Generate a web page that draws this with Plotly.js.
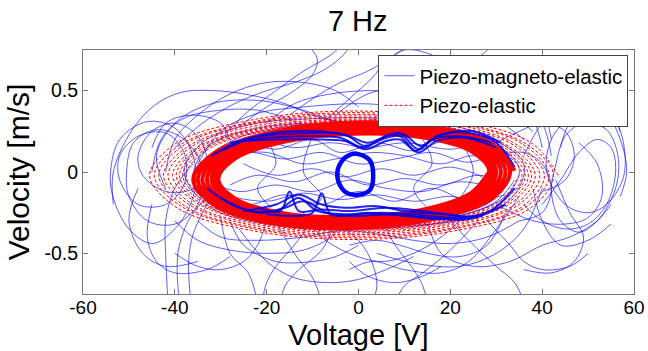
<!DOCTYPE html>
<html><head><meta charset="utf-8">
<script src="https://cdn.plot.ly/plotly-3.0.1.min.js"></script>
<style>html,body{margin:0;padding:0;background:#fff}#chart{width:648px;height:351px}</style>
</head><body><div id="chart"></div>
<script>
// ---- data (Voltage [V], Velocity [m/s]) ----
const xTicks = [-60, -40, -20, 0, 20, 40, 60];
const yTicks = [-0.5, 0, 0.5];
const yTickText = ['-0.5', '0', '0.5'];

// Piezo-elastic: outer (transient) loops
const redOuter = [
[43.5,-0.02],[37.54,0.18],[21.25,0.32],[-1,0.375],[-23.25,0.32],[-39.54,0.18],[-45.5,-0.02],[-39.54,-0.22],[-23.25,-0.36],[-1,-0.415],[21.25,-0.36],[37.54,-0.22],
[42.5,-0.02],[36.67,0.17],[20.75,0.31],[-1,0.365],[-22.75,0.31],[-38.67,0.17],[-44.5,-0.02],[-38.67,-0.21],[-22.75,-0.35],[-1,-0.405],[20.75,-0.35],[36.67,-0.21],
[41.5,-0.02],[35.81,0.17],[20.25,0.305],[-1,0.355],[-22.25,0.305],[-37.81,0.17],[-43.5,-0.02],[-37.81,-0.21],[-22.25,-0.345],[-1,-0.395],[20.25,-0.345],[35.81,-0.21],
[40.5,-0.02],[34.94,0.16],[19.75,0.30],[-1,0.345],[-21.75,0.30],[-36.94,0.16],[-42.5,-0.02],[-36.94,-0.20],[-21.75,-0.336],[-1,-0.385],[19.75,-0.336],[34.94,-0.20],
[39.5,-0.02],[34.07,0.16],[19.25,0.29],[-1,0.335],[-21.25,0.29],[-36.07,0.16],[-41.5,-0.02],[-36.07,-0.20],[-21.25,-0.327],[-1,-0.375],[19.25,-0.327],[34.07,-0.20],
[38.5,-0.02],[33.21,0.15],[18.75,0.28],[-1,0.325],[-20.75,0.28],[-35.21,0.15],[-40.5,-0.02],[-35.21,-0.19],[-20.75,-0.32],[-1,-0.365],[18.75,-0.32],[33.21,-0.19],
[37.7,-0.02],[32.51,0.15],[18.35,0.273],[-1,0.318],[-20.35,0.273],[-34.51,0.15],[-39.7,-0.02],[-34.51,-0.19],[-20.35,-0.313],[-1,-0.358],[18.35,-0.313],[32.51,-0.19],
[37,-0.02],[31.91,0.146],[18,0.268],[-1,0.312],[-20,0.268],[-33.91,0.146],[-39,-0.02],[-33.91,-0.186],[-20,-0.308],[-1,-0.352],[18,-0.308],[31.91,-0.186],
[36.3,-0.02],[31.3,0.143],[17.65,0.262],[-1,0.306],[-19.65,0.262],[-33.3,0.143],[-38.3,-0.02],[-33.3,-0.183],[-19.65,-0.302],[-1,-0.346],[17.65,-0.302],[31.3,-0.183],
[35.6,-0.02],[30.7,0.14],[17.3,0.257],[-1,0.30],[-19.3,0.257],[-32.7,0.14],[-37.6,-0.02],[-32.7,-0.18],[-19.3,-0.297],[-1,-0.34],[17.3,-0.297],[30.7,-0.18],[35,-0.02]
];
// Piezo-elastic: steady-state loops (dense band)
const redInner = [
[34,0.008],[29.31,0.167],[16.5,0.276],[-1,0.305],[-18.5,0.248],[-31.31,0.119],[-36,-0.048],[-31.31,-0.207],[-18.5,-0.316],[-1,-0.345],[16.5,-0.288],[29.31,-0.159],
[33,0.007],[28.44,0.16],[16,0.265],[-1,0.293],[-18,0.237],[-30.44,0.113],[-35,-0.047],[-30.44,-0.201],[-18,-0.305],[-1,-0.333],[16,-0.277],[28.44,-0.153],
[32,0.006],[27.58,0.153],[15.5,0.253],[-1,0.28],[-17.5,0.227],[-29.58,0.107],[-34,-0.046],[-29.58,-0.193],[-17.5,-0.293],[-1,-0.32],[15.5,-0.267],[27.58,-0.147],
[31,0.006],[26.71,0.146],[15,0.242],[-1,0.268],[-17,0.216],[-28.71,0.102],[-33,-0.046],[-28.71,-0.186],[-17,-0.282],[-1,-0.308],[15,-0.256],[26.71,-0.142],
[30,0.005],[25.85,0.139],[14.5,0.231],[-1,0.256],[-16.5,0.207],[-27.85,0.097],[-32,-0.045],[-27.85,-0.179],[-16.5,-0.271],[-1,-0.296],[14.5,-0.247],[25.85,-0.137],
[29.2,0.004],[25.15,0.134],[14.1,0.222],[-1,0.245],[-16.1,0.198],[-27.15,0.092],[-31.2,-0.044],[-27.15,-0.174],[-16.1,-0.262],[-1,-0.285],[14.1,-0.238],[25.15,-0.132],
[28.5,0.004],[24.55,0.128],[13.75,0.213],[-1,0.235],[-15.75,0.189],[-26.55,0.088],[-30.5,-0.044],[-26.55,-0.168],[-15.75,-0.257],[-1,-0.275],[13.75,-0.233],[24.55,-0.128],[28.5,0.004]
];

// Piezo-magneto-elastic: chaotic trajectories (null = break)
const blueLeft = [
[-54,0],[-52,0.2],[-46,0.31],[-40,0.27],[-36,0.1],[-36,-0.15],[-40,-0.35],[-45,-0.44],[-50,-0.35],[-53.5,-0.15],[-54,0],null,
[-50.5,0],[-49,0.18],[-44,0.26],[-38,0.2],[-34,0.02],[-35,-0.2],[-40,-0.32],[-46,-0.3],[-50,-0.15],[-50.5,0],null,
[-48,0.1],[-45,0.25],[-40,0.3],[-35,0.22],[-33,0.05],[-36,-0.1],[-42,-0.12],[-47,-0.02],[-48,0.1],null,
[-52,0.1],[-48,0.22],[-42,0.24],[-38,0.12],[-38,-0.08],[-42,-0.2],[-48,-0.2],[-52,-0.05],[-52,0.1],null,
[-36,0.05],[-40,-0.1],[-42,-0.3],[-42,-0.5],[-41.5,-0.8],null,
[-30,-0.1],[-36,-0.25],[-39,-0.45],[-39.5,-0.6],[-39,-0.8],null,
[-33,-0.2],[-36,-0.38],[-37,-0.55],[-36.5,-0.8],null,
[-45,-0.2],[-46,-0.4],[-44,-0.55],[-40,-0.62],[-33,-0.6],[-28,-0.52],null,
[-48,-0.1],[-50,-0.3],[-47,-0.5],[-42,-0.58],[-35,-0.55],null,
[-45,0.15],[-42,0.3],[-36,0.35],[-30,0.3],[-28,0.2],null,
[-33,-0.05],[-30,0.12],[-22,0.22],[-10,0.26],[0,0.26],null,
[-36,-0.1],[-33,0.08],[-27,0.2],[-18,0.27],[-6,0.3]
];
const blueTop = [
[-53.4,-0.2],[-53.4,0],[-49.5,0.25],[-44.4,0.41],[-38.6,0.49],[-31.4,0.5],[-24,0.475],[-16,0.42],[-8,0.33],[0,0.3],null,
[-45,0],[-43,0.2],[-38,0.33],[-30,0.38],[-22,0.38],[-15,0.32],[-10,0.25],null,
[-40,0.15],[-34,0.3],[-27,0.42],[-20,0.5],[-14,0.55],[-8,0.62],[-4,0.7],[-1,0.8],null,
[-30,0.2],[-25,0.35],[-18,0.5],[-12,0.62],[-6,0.72],[-3,0.8],null,
[-15,0.35],[-10,0.45],[-4,0.55],[2,0.62],[8,0.72],[12,0.8],null,
[-5,0.35],[2,0.48],[10,0.52],[18,0.55],[25,0.5],[32,0.38],[38,0.25],null,
[5,0.4],[12,0.58],[20,0.65],[28,0.6],[34,0.48],[40,0.3],[42,0.1],null,
[-42,-0.1],[-44,0.1],[-40,0.3],[-32,0.42],[-22,0.44],[-12,0.38],[-4,0.3],[4,0.28],null,
[20,0.3],[24,0.45],[30,0.55],[36,0.52],[40,0.4],[42,0.2],null,
[10,0.3],[14,0.45],[20,0.58],[26,0.7],[30,0.8],null,
[0,0.4],[-5,0.5],[-12,0.55],[-20,0.55],[-28,0.48],[-35,0.35],[-40,0.2],[-42,0],null,
[-35,0.05],[-30,0.25],[-22,0.36],[-12,0.4],[0,0.42],[10,0.4],[20,0.36],[28,0.3],null,
[-20,0.3],[-14,0.42],[-6,0.48],[4,0.5],[14,0.46],[22,0.4],[30,0.32],[36,0.2],null,
[-26,0.28],[-20,0.4],[-14,0.5],[-10,0.6],[-9,0.7],[-12,0.8],null,
[-8,0.3],[-2,0.45],[3,0.58],[6,0.68],[10,0.75],[16,0.72],[22,0.62],[30,0.5],null,
[2,0.3],[8,0.42],[15,0.5],[24,0.52],[33,0.45],[38,0.32],[40,0.15]
];
const blueRight = [
[41,0],[42,0.2],[46,0.33],[51,0.36],[56,0.3],[58,0.12],[57.5,-0.05],[54,-0.2],[50,-0.25],[45,-0.2],[41,0],null,
[43,0.05],[45,0.22],[49,0.3],[54,0.26],[56.5,0.1],[56,-0.1],[52,-0.3],[48,-0.37],[44,-0.3],[42,-0.12],[43,0.05],null,
[38,-0.1],[40,-0.3],[44,-0.45],[50,-0.42],[55,-0.32],null,
[44,0.15],[46,0.3],[50,0.37],[54,0.35],[57,0.2],[58.4,0],[57,-0.15],null,
[28,0.15],[35,0.25],[40,0.3],[45,0.25],[47,0.1],[45,-0.05],[40,-0.12],null,
[43,-0.05],[46,-0.25],[49,-0.4],[47,-0.55],[42,-0.62],[36,-0.6],null,
[30,-0.2],[38,-0.3],[45,-0.32],[50,-0.28],[53,-0.15],[52,0.05],[48,0.18],null,
[36,0.1],[40,0.3],[45,0.42],[50,0.44],[55,0.38],[57,0.25],null,
[40,-0.2],[44,-0.05],[48,0.12],[52,0.2],[55,0.15],[56,0],[54,-0.2],[50,-0.32],[45,-0.35],[40,-0.3],[36,-0.2],null,
[30,0.1],[36,0.12],[40,0.05],[42,-0.1],[40,-0.25],[35,-0.3],null,
[0,-0.3],[12,-0.3],[22,-0.27],[30,-0.18],[34,-0.05],null,
[5,-0.33],[16,-0.32],[25,-0.28],[32,-0.2]
];
const blueBottom = [
[35,-0.15],[30,-0.35],[24,-0.55],[18,-0.62],[10,-0.6],[3,-0.55],[-2,-0.6],null,
[40,-0.1],[36,-0.35],[30,-0.5],[22,-0.58],[12,-0.56],[4,-0.5],null,
[26,-0.3],[20,-0.48],[14,-0.62],[10,-0.7],[8,-0.8],null,
[32,-0.25],[28,-0.45],[22,-0.52],[15,-0.5],[9,-0.45],[4,-0.42],[-2,-0.45],null,
[15,-0.3],[18,-0.5],[25,-0.58],[33,-0.55],[40,-0.45],[46,-0.4],[52,-0.3],[55,-0.2],null,
[-20,-0.3],[-22,-0.45],[-25,-0.55],[-30,-0.6],[-35,-0.58],[-40,-0.5],null,
[-10,-0.3],[-14,-0.45],[-18,-0.58],[-20,-0.68],[-21,-0.8],null,
[-5,-0.3],[-8,-0.48],[-13,-0.6],[-16,-0.7],[-17,-0.8],null,
[-28,-0.3],[-25,-0.45],[-18,-0.55],[-10,-0.55],[-5,-0.52],[0,-0.45],null,
[-2,-0.55],[2,-0.64],[8,-0.68],[14,-0.64],[18,-0.58],null,
[-30,-0.28],[-28,-0.5],[-24,-0.62],[-22,-0.8],null,
[-40,-0.3],[-35,-0.42],[-28,-0.48],[-20,-0.5],[-12,-0.48],[-6,-0.4],[-3,-0.3],null,
[-12,-0.25],[-8,-0.4],[-2,-0.5],[5,-0.55],[12,-0.5],[18,-0.4],[22,-0.3],null,
[5,-0.3],[8,-0.45],[12,-0.6],[14,-0.7],[15,-0.8],null,
[-18,-0.3],[-14,-0.5],[-10,-0.65],[-8,-0.8],null,
[-35,-0.3],[-30,-0.4],[-22,-0.42],[-12,-0.4],[-4,-0.36],[4,-0.38],[12,-0.42],[20,-0.44],[28,-0.4],[35,-0.3],null,
[-26,-0.35],[-20,-0.55],[-14,-0.65],[-6,-0.68],[0,-0.66],[6,-0.6],[12,-0.52],null,
[20,-0.3],[24,-0.42],[30,-0.58],[34,-0.68],[36,-0.8],null,
[28,-0.3],[33,-0.45],[36,-0.55],[40,-0.6],[46,-0.58],[50,-0.5],null,
[-6,-0.3],[0,-0.42],[3,-0.56],[4,-0.7],[3,-0.8]
];
const blueInner = [
[-34,0],[-28,0.1],[-20,0.12],[-12,0.05],[-5,0.08],[3,0.12],[10,0.1],[18,0.05],[25,0.1],[32,0.02],null,
[-33,-0.05],[-26,-0.12],[-18,-0.08],[-10,-0.12],[-2,-0.05],[6,-0.1],[14,-0.12],[22,-0.06],[30,-0.1],null,
[-30,0.15],[-22,0.2],[-14,0.15],[-6,0.18],[2,0.15],[10,0.18],[20,0.14],[28,0.18],[33,0.1],null,
[-28,-0.15],[-20,-0.18],[-12,-0.13],[-4,-0.17],[4,-0.14],[12,-0.18],[20,-0.15],[28,-0.2],null,
[-25,0.05],[-18,-0.02],[-10,0.02],[-3,-0.03],[5,0.02],[12,-0.02],[20,0.03],[27,-0.03],null,
[-30,0.05],[-24,0.12],[-16,0.08],[-8,0.12],[0,0.05],[8,0.08],[16,0.12],[24,0.06],[30,0.12],null,
[-28,-0.08],[-22,-0.02],[-14,-0.06],[-6,0],[2,-0.08],[10,-0.04],[18,-0.08],[26,-0.02],[32,-0.06],null,
[-32,0.08],[-26,0.18],[-18,0.14],[-10,0.2],[-4,0.12],[4,0.18],[12,0.13],[20,0.2],[28,0.12],null,
[-32,-0.12],[-24,-0.2],[-16,-0.14],[-8,-0.2],[0,-0.12],[8,-0.18],[16,-0.1],[24,-0.18],[32,-0.14],null,
[-20,0.2],[-18,0.05],[-22,-0.1],[-19,-0.22],null,
[14,0.2],[16,0.05],[12,-0.1],[15,-0.22],null,
[22,0.2],[25,0],[21,-0.2],null,
[-10,0.22],[-12,0],[-8,-0.15],[-10,-0.22],null,
[-36,-0.05],[-33,0.15],[-22,0.27],[-5,0.3],[12,0.3],[28,0.2],[35,0.02],[32,-0.15],[20,-0.28],[0,-0.32],[-20,-0.3],[-32,-0.18],[-36,-0.05],null,
[-38,0],[-34,0.18],[-24,0.29],[-8,0.33],[10,0.32],[26,0.24],[36,0.05],[33,-0.17],[20,-0.3],[2,-0.35],[-18,-0.33],[-32,-0.22],[-38,0]
];
const blueBands = [
[-32,0.1],[-25,0.2],[-18,0.23],[-10,0.24],[-3,0.23],[1.5,0.16],[6,0.22],[9,0.24],[13,0.14],[17,0.22],[24,0.24],[30,0.18],[34,0.03],null,
[-30,0.13],[-22,0.22],[-15,0.25],[-8,0.25],[-2,0.22],[2,0.18],[7,0.23],[10,0.23],[13.5,0.16],[18,0.23],[25,0.25],[31,0.18],null,
[-28,0.18],[-20,0.21],[-12,0.22],[-4,0.21],[1,0.15],[5,0.2],[9,0.22],[12.5,0.13],[16,0.2],[22,0.22],[29,0.18],null,
[-26,0.19],[-18,0.2],[-10,0.2],[-3,0.19],[1.5,0.14],[6,0.19],[9,0.2],[13,0.12],[17,0.19],[23,0.21],[30,0.15],null,
[-33,-0.1],[-26,-0.22],[-18,-0.24],[-13,-0.16],[-9,-0.24],[-2,-0.26],[5,-0.25],[12,-0.26],[20,-0.28],[28,-0.25],[34,-0.1],null,
[-30,-0.16],[-22,-0.25],[-16,-0.22],[-12,-0.18],[-6,-0.26],[0,-0.27],[8,-0.26],[15,-0.28],[24,-0.29],[32,-0.2],null,
[-25,-0.24],[-18,-0.2],[-13,-0.14],[-8,-0.2],[-3,-0.22],[4,-0.21],[10,-0.24],[18,-0.26],[26,-0.28],null,
[-22,-0.22],[-17,-0.24],[-15,-0.12],[-13,-0.24],[-8,-0.23],[-2,-0.24],[6,-0.22],[14,-0.24],[22,-0.27],null,
[-20,-0.26],[-14,-0.27],[-10,-0.25],[-8,-0.13],[-6,-0.26],[2,-0.25],[10,-0.27],[18,-0.29],[27,-0.27]
];
const blueCore = [
[0,0.11],[2.5,0.07],[3.2,-0.03],[2.5,-0.11],[0,-0.14],[-3,-0.12],[-4.6,-0.03],[-3.8,0.06],[-1.5,0.11],[0,0.11]
];

// ---- build traces ----
function xy(pts){return {x: pts.map(p=>p?p[0]:null), y: pts.map(p=>p?p[1]:null)};}
const thinBlue = {color:'rgba(0,0,255,0.7)', width:0.9, shape:'spline'};
function blueTrace(pts, line, legend){
  const d = xy(pts);
  return {type:'scatter', mode:'lines', x:d.x, y:d.y, line:line, connectgaps:false,
    name:'Piezo-magneto-elastic', showlegend:!!legend, legendrank:1, hoverinfo:'skip'};
}
const traces = [
  blueTrace(blueLeft, thinBlue, true),
  blueTrace(blueTop, thinBlue),
  blueTrace(blueRight, thinBlue),
  blueTrace(blueBottom, thinBlue),
  blueTrace(blueInner, thinBlue),
];
const ro = xy(redOuter), ri = xy(redInner), bc = xy(blueCore);
traces.push({type:'scatter', mode:'lines', x:ro.x, y:ro.y, name:'Piezo-elastic', legendrank:2,
  line:{color:'rgb(255,0,0)', width:1, dash:'3px,2px', shape:'spline'}, hoverinfo:'skip'});
traces.push({type:'scatter', mode:'lines', x:ri.x, y:ri.y, showlegend:false,
  line:{color:'rgb(255,0,0)', width:4, shape:'spline'}, hoverinfo:'skip'});
traces.push(blueTrace(blueBands, {color:'rgba(0,0,230,0.85)', width:2, shape:'spline'}));
traces.push({type:'scatter', mode:'lines', x:bc.x, y:bc.y, showlegend:false,
  line:{color:'rgb(0,0,255)', width:4.5, shape:'spline'}, hoverinfo:'skip'});

const FONT = 'Arial, "Liberation Sans", sans-serif';
const layout = {
  width:648, height:351,
  margin:{l:83, r:14, t:50, b:57},
  paper_bgcolor:'#fff', plot_bgcolor:'#fff',
  font:{family:FONT, color:'#000'},
  title:{text:'7 Hz', font:{size:29, family:FONT, color:'#000'}, x:0.552, xanchor:'center', y:0.942, yanchor:'middle', yref:'container'},
  xaxis:{range:[-60,60], tickvals:xTicks, ticktext:xTicks.map(String), ticks:'inside', ticklen:5,
    tickcolor:'#777', showline:true, linecolor:'#777', linewidth:1, mirror:'ticks', zeroline:false, showgrid:false,
    tickfont:{size:19, family:FONT}, ticklabelstandoff:-4,
    title:{text:'Voltage [V]', font:{size:29, family:FONT}, standoff:8}},
  yaxis:{range:[-0.75,0.75], tickvals:yTicks, ticktext:yTickText, ticks:'inside', ticklen:5,
    tickcolor:'#777', showline:true, linecolor:'#777', linewidth:1, mirror:'ticks', zeroline:false, showgrid:false,
    tickfont:{size:19.5, family:FONT}, ticklabelstandoff:0,
    title:{text:'Velocity [m/s]', font:{size:30, family:FONT}, standoff:5}},
  legend:{x:0.99, y:0.98, xanchor:'right', yanchor:'top', bgcolor:'#fff', bordercolor:'#444', borderwidth:1,
    font:{size:20.5, family:FONT, color:'#000'}, itemwidth:30, tracegroupgap:0},
  showlegend:true
};
Plotly.newPlot('chart', traces, layout, {staticPlot:true, displayModeBar:false});
</script>
</body></html>
